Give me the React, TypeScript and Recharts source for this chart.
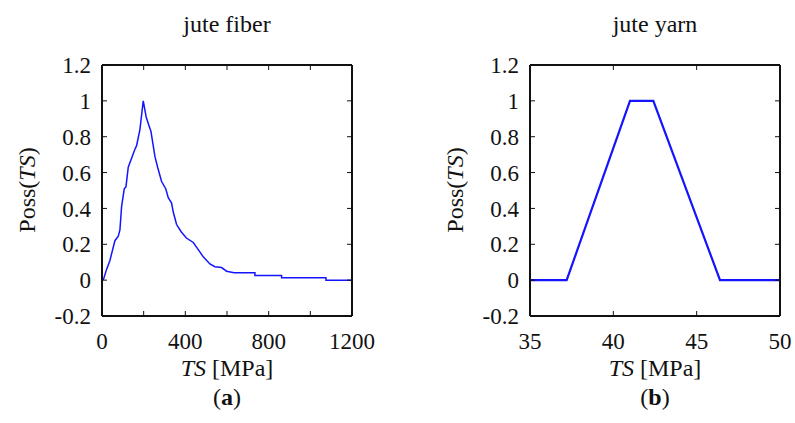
import { LineChart, Line, XAxis, YAxis } from "recharts";
import type { CSSProperties, ReactNode } from "react";

// jute fiber: possibility distribution of tensile strength (MPa)
const fiberTs = [
  6, 22, 38, 62, 78, 86, 94, 107, 115, 126, 142, 158, 166, 182, 198, 212, 226,
  235, 254, 267, 286, 306, 318, 334, 342, 358, 380, 405, 438, 462, 486, 518,
  542, 574, 598, 634, 734, 734, 862, 862, 1075, 1075, 1200,
];
const fiberPoss = [
  0, 0.06, 0.11, 0.22, 0.245, 0.28, 0.41, 0.51, 0.52, 0.63, 0.68, 0.73, 0.75,
  0.84, 1.0, 0.91, 0.86, 0.83, 0.69, 0.63, 0.55, 0.51, 0.46, 0.43, 0.38, 0.31,
  0.27, 0.235, 0.21, 0.17, 0.13, 0.09, 0.075, 0.07, 0.05, 0.041, 0.041, 0.026,
  0.026, 0.013, 0.013, 0, 0,
];

// jute yarn: trapezoidal distribution
const yarnTs = [35, 37.2, 41.0, 42.4, 46.4, 50];
const yarnPoss = [0, 0, 1, 1, 0, 0];

const possTicks = [-0.2, 0, 0.2, 0.4, 0.6, 0.8, 1, 1.2];
const fiberTicks = [0, 200, 400, 600, 800, 1000, 1200];
const fiberLabels = [0, 400, 800, 1200];
const yarnTicks = [35, 40, 45, 50];

const fiberData = fiberTs.map((ts, i) => ({ ts, poss: fiberPoss[i] }));
const yarnData = yarnTs.map((ts, i) => ({ ts, poss: yarnPoss[i] }));

const FONT = "'Liberation Serif', 'DejaVu Serif', serif";
const tickStyle = { fontSize: 23, fill: "#111", fontFamily: FONT };
const frame = { stroke: "#111", strokeWidth: 2 };
const tickLine = { stroke: "#111", strokeWidth: 1 };

const abs = (left: number, top: number, extra: CSSProperties = {}): CSSProperties => ({
  position: "absolute",
  left,
  top,
  transform: "translate(-50%, -50%)",
  whiteSpace: "nowrap",
  fontFamily: FONT,
  fontSize: 24,
  lineHeight: 1,
  color: "#111",
  ...extra,
});

interface PanelProps {
  data: { ts: number; poss: number }[];
  domain: [number, number];
  ticks: number[];
  labels: number[];
  width: number;
  right: number;
  strokeWidth: number;
}

const Panel = ({ data, domain, ticks, labels, width, right, strokeWidth }: PanelProps) => (
  <LineChart
    width={width}
    height={423}
    data={data}
    margin={{ top: 64, right: right - 1, bottom: 106, left: width - right - 251 }}
  >
    <XAxis
      dataKey="ts"
      type="number"
      domain={domain}
      ticks={ticks}
      interval={0}
      height={1}
      tickSize={-5}
      tickMargin={22}
      axisLine={frame}
      tickLine={tickLine}
      tick={tickStyle}
      tickFormatter={(v: number) => (labels.includes(v) ? String(v) : "")}
      allowDataOverflow
    />
    <XAxis
      xAxisId="top"
      dataKey="ts"
      orientation="top"
      type="number"
      domain={domain}
      ticks={ticks}
      interval={0}
      height={1}
      tickSize={-5}
      axisLine={frame}
      tickLine={tickLine}
      tickFormatter={() => ""}
      allowDataOverflow
    />
    <YAxis
      type="number"
      domain={[-0.2, 1.2]}
      ticks={possTicks}
      interval={0}
      width={1}
      tickSize={-5}
      tickMargin={16}
      axisLine={frame}
      tickLine={tickLine}
      tick={tickStyle}
      allowDataOverflow
    />
    <YAxis
      yAxisId="right"
      orientation="right"
      type="number"
      domain={[-0.2, 1.2]}
      ticks={possTicks}
      interval={0}
      width={1}
      tickSize={-5}
      axisLine={frame}
      tickLine={tickLine}
      tickFormatter={() => ""}
      allowDataOverflow
    />
    <Line
      type="linear"
      dataKey="poss"
      stroke="#1414ff"
      strokeWidth={strokeWidth}
      dot={false}
      isAnimationActive={false}
    />
  </LineChart>
);

const Caption = ({ x, y, children, rotate }: { x: number; y: number; children: ReactNode; rotate?: boolean }) => (
  <div style={abs(x, y, rotate ? { transform: "translate(-50%, -50%) rotate(-90deg)" } : {})}>{children}</div>
);

const App = () => (
  <div style={{ position: "absolute", left: 0, top: 0, width: 795, height: 423, background: "#fff" }}>
    <div style={{ position: "absolute", left: 0, top: 0 }}>
      <Panel data={fiberData} domain={[0, 1200]} ticks={fiberTicks} labels={fiberLabels} width={397} right={45} strokeWidth={1.5} />
    </div>
    <div style={{ position: "absolute", left: 397, top: 0 }}>
      <Panel data={yarnData} domain={[35, 50]} ticks={yarnTicks} labels={yarnTicks} width={398} right={15} strokeWidth={2.2} />
    </div>

    <Caption x={227} y={24}>jute fiber</Caption>
    <Caption x={655} y={24}>jute yarn</Caption>

    <Caption x={27} y={190} rotate>
      Poss(<i>TS</i>)
    </Caption>
    <Caption x={455} y={190} rotate>
      Poss(<i>TS</i>)
    </Caption>

    <Caption x={227} y={368}>
      <i>TS</i> [MPa]
    </Caption>
    <Caption x={655} y={368}>
      <i>TS</i> [MPa]
    </Caption>

    <Caption x={227} y={397}>
      (<b>a</b>)
    </Caption>
    <Caption x={655} y={397}>
      (<b>b</b>)
    </Caption>
  </div>
);

export default App;
